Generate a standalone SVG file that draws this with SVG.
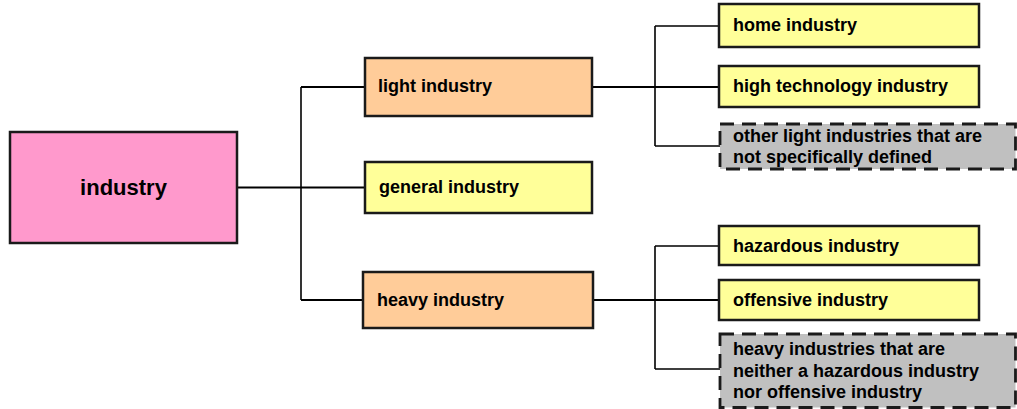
<svg xmlns="http://www.w3.org/2000/svg" width="1017" height="409" viewBox="0 0 1017 409">
<style>
.box{stroke:#1a1a1a;stroke-width:2.5}
.pink{fill:#FF99CC}
.orange{fill:#FFCC99}
.yellow{fill:#FFFF99}
.gray{fill:#C0C0C0;stroke-width:2.8;stroke-dasharray:14 8}
.t{font-family:"Liberation Sans",Arial,sans-serif;font-weight:bold;font-size:18px;fill:#000}
.big{font-size:22px}
.c{fill:none;stroke:#000;stroke-width:1.6}
.cm{fill:none;stroke:#000;stroke-width:2}
</style>
<rect width="1017" height="409" fill="#fff"/>
<g id="connectors">
<path class="cm" d="M237 187.5H301"/>
<path class="c" d="M301 87V300"/>
<path class="cm" d="M301 87H365M301 187.5H365M301 300H363"/>
<path class="cm" d="M592 87H719M593 300H719"/>
<path class="c" d="M655 26V146M655 246V369"/>
<path class="c" d="M655 26H719M655 146H720M655 246H719M655 369H720"/>
</g>
<g id="industry">
<rect class="box pink" x="10" y="132" width="227" height="111"/>
<text class="t big" x="123.5" y="195" text-anchor="middle">industry</text>
</g>
<g id="light-industry">
<rect class="box orange" x="365" y="58" width="227" height="58"/>
<text class="t" x="378" y="92">light industry</text>
</g>
<g id="general-industry">
<rect class="box yellow" x="365" y="162" width="227" height="51"/>
<text class="t" x="379" y="193">general industry</text>
</g>
<g id="heavy-industry">
<rect class="box orange" x="363" y="272" width="230" height="56"/>
<text class="t" x="377" y="306">heavy industry</text>
</g>
<g id="home-industry">
<rect class="box yellow" x="719" y="4" width="260" height="43"/>
<text class="t" x="733" y="31">home industry</text>
</g>
<g id="high-technology-industry">
<rect class="box yellow" x="719" y="66" width="260" height="41"/>
<text class="t" x="733" y="92">high technology industry</text>
</g>
<g id="other-light-industries">
<rect class="box gray" x="720" y="124" width="295.5" height="45"/>
<text class="t" x="733" y="142">other light industries that are</text>
<text class="t" x="733" y="163">not specifically defined</text>
</g>
<g id="hazardous-industry">
<rect class="box yellow" x="719" y="226" width="260" height="39"/>
<text class="t" x="733" y="252">hazardous industry</text>
</g>
<g id="offensive-industry">
<rect class="box yellow" x="719" y="280" width="260" height="40"/>
<text class="t" x="733" y="306">offensive industry</text>
</g>
<g id="other-heavy-industries">
<rect class="box gray" x="720" y="334" width="295.5" height="73.5"/>
<text class="t" x="733" y="355">heavy industries that are</text>
<text class="t" x="733" y="377">neither a hazardous industry</text>
<text class="t" x="733" y="398">nor offensive industry</text>
</g>
</svg>
